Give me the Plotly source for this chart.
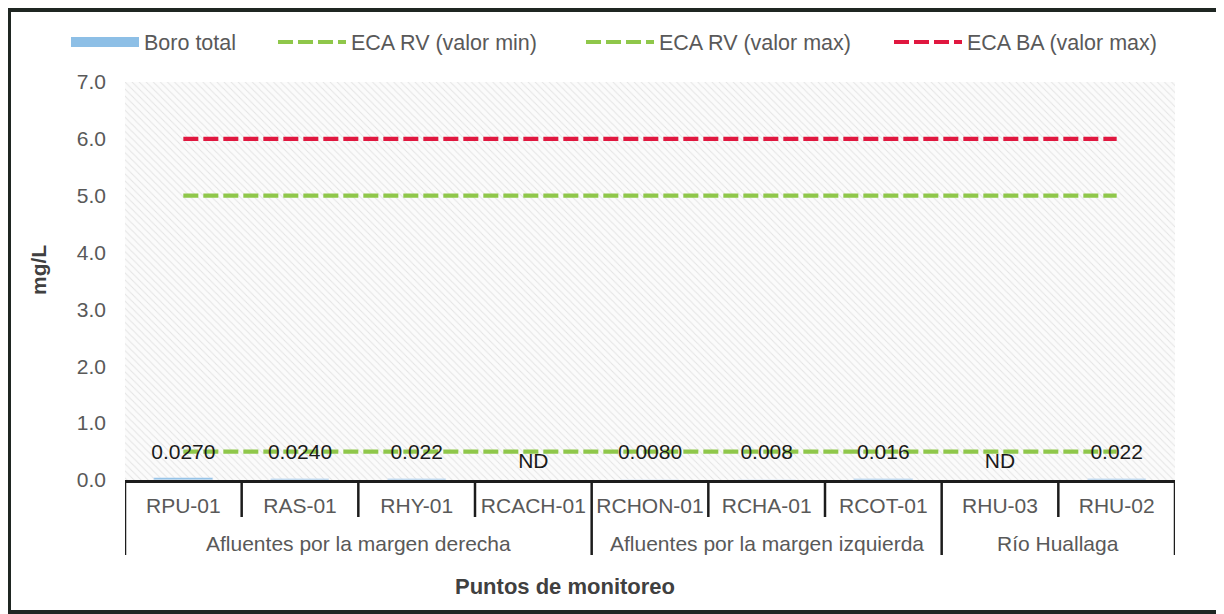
import plotly.graph_objects as go

groups = ["Afluentes por la margen derecha"] * 4 + ["Afluentes por la margen izquierda"] * 3 + ["Río Huallaga"] * 2
stations = ["RPU-01", "RAS-01", "RHY-01", "RCACH-01", "RCHON-01", "RCHA-01", "RCOT-01", "RHU-03", "RHU-02"]
boro_total = [0.027, 0.024, 0.022, None, 0.008, 0.008, 0.016, None, 0.022]
boro_labels = ["0.0270", "0.0240", "0.022", "ND", "0.0080", "0.008", "0.016", "ND", "0.022"]
label_y = [0.47, 0.47, 0.47, 0.30, 0.47, 0.47, 0.47, 0.30, 0.47]
eca_rv_min = [0.5] * 9
eca_rv_max = [5.0] * 9
eca_ba_max = [6.0] * 9
y_max = 7.0

font = "Liberation Sans, Arial, sans-serif"
green = "#8FC74A"
red = "#E0173F"
blue = "#8DBFE6"
txt = "#595959"
dark = "#1c1c1c"
fs = 21

# layout geometry (figure px)
W, H = 1216, 606
ML, MR, MT, MB = 117, 49, 74, 134
PW, PH = W - ML - MR, H - MT - MB


def py(px):  # px below the x axis -> paper y
    return -px / PH


fig = go.Figure()

# hatched plot background
fig.add_trace(go.Bar(x=stations, y=[y_max] * len(stations), width=1.0, showlegend=False, hoverinfo="skip",
                     marker=dict(color="rgba(255,255,255,0)", line=dict(width=0),
                                 pattern=dict(shape="\\", fgcolor="#cccccc", bgcolor="#fbfbfb",
                                              size=5, solidity=0.2))))

fig.add_trace(go.Bar(x=stations, y=boro_total, name="Boro total", marker_color=blue, width=0.5,
                     showlegend=False, legendgroup="boro"))
fig.add_trace(go.Scatter(x=[None], y=[None], name="Boro total", mode="lines", legendgroup="boro",
                         line=dict(color=blue, width=10), legend="legend"))
fig.add_trace(go.Scatter(x=stations, y=eca_rv_min, name="ECA RV (valor min)", mode="lines",
                         line=dict(color=green, width=4.2, dash="15px,5px"), legend="legend2"))
fig.add_trace(go.Scatter(x=stations, y=eca_rv_max, name="ECA RV (valor max)", mode="lines",
                         line=dict(color=green, width=4.2, dash="15px,5px"), legend="legend2"))
fig.add_trace(go.Scatter(x=stations, y=eca_ba_max, name="ECA BA (valor max)", mode="lines",
                         line=dict(color=red, width=4.2, dash="15px,5px"), legend="legend2"))
fig.add_trace(go.Scatter(x=stations, y=label_y, mode="text", text=boro_labels, showlegend=False,
                         textfont=dict(family=font, size=fs, color="#1a1a1a"), hoverinfo="skip"))

leg_y = (PH + MT - 34) / PH
legend_common = dict(orientation="h", yanchor="middle", y=leg_y, xanchor="left",
                     font=dict(size=fs + 0.5, color=txt, family=font), itemwidth=68,
                     bgcolor="rgba(0,0,0,0)", borderwidth=0, traceorder="normal")

fig.update_layout(
    width=W, height=H,
    margin=dict(l=ML, r=MR, t=MT, b=MB, autoexpand=False),
    paper_bgcolor="white", plot_bgcolor="white",
    barmode="overlay", bargap=0,
    font=dict(family=font, color=txt, size=fs),
    legend=dict(x=(58 - ML) / PW, **legend_common),
    legend2=dict(x=(265 - ML) / PW, entrywidth=225, entrywidthmode="pixels", **legend_common),
    showlegend=True,
)
fig.update_yaxes(range=[0, y_max], dtick=1.0, tickformat=".1f", showgrid=True, gridcolor="#d0d0d0",
                 gridwidth=1, zeroline=False, showline=False, ticks="", ticklabelstandoff=18,
                 tickfont=dict(size=fs, color=txt))
fig.update_xaxes(type="category", showgrid=True, gridcolor="#d0d0d0", tickson="boundaries",
                 showline=True, linecolor=dark, linewidth=2.5, ticks="", ticklabelstandoff=5,
                 tickfont=dict(size=fs, color=txt), range=[-0.5, len(stations) - 0.5])

# category boundary ticks (table lines) and group dividers
n = len(stations)
for i in range(n + 1):
    is_group_edge = i == 0 or i == n or groups[i] != groups[i - 1]
    fig.add_shape(type="line", xref="x", yref="paper", x0=i - 0.5, x1=i - 0.5, y0=0,
                  y1=py(75 if is_group_edge else 37), line=dict(color=dark, width=2.5))

# group labels
seen = []
for g in groups:
    if g not in seen:
        seen.append(g)
for g in seen:
    idx = [i for i, v in enumerate(groups) if v == g]
    fig.add_annotation(x=sum(idx) / len(idx), y=py(63), xref="x", yref="paper", text=g,
                       showarrow=False, yanchor="middle", font=dict(size=fs, color=txt))

# axis titles
fig.add_annotation(x=(565 - 8 - ML) / PW, y=py(106), xref="paper", yref="paper",
                   text="<b>Puntos de monitoreo</b>", showarrow=False, yanchor="middle",
                   font=dict(size=22, color="#404040"))
fig.add_annotation(x=(38 - 8 - ML) / PW, y=(480 - 270) / PH, xref="paper", yref="paper",
                   text="<b>mg/L</b>", textangle=-90, showarrow=False, xanchor="center",
                   yanchor="middle", font=dict(size=21, color="#404040"))

# outer frame
fig.add_shape(type="rect", xref="paper", yref="paper",
              x0=(1 - ML) / PW, x1=(1210 - ML) / PW, y0=(PH - 604 + MT) / PH, y1=(PH - 2 + MT) / PH,
              line=dict(color="#1f2622", width=4))

fig.write_html("out.html")
